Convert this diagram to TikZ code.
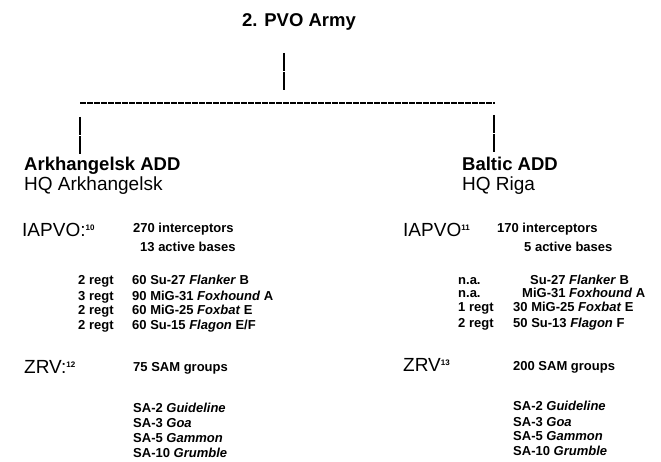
\documentclass[tikz,border=0pt]{standalone}
\usepackage{fontspec}
\setmainfont{Liberation Sans}
\newcommand{\supnum}[1]{\raisebox{6pt}{\fontsize{8}{8}\selectfont\bfseries #1}}
\tikzset{
  ttl/.style={font=\fontsize{18.5}{20}\selectfont\bfseries, inner sep=0pt, anchor=base west},
  hq/.style={font=\fontsize{19}{21}\selectfont, inner sep=0pt, anchor=base west},
  lab/.style={font=\fontsize{19}{21}\selectfont, inner sep=0pt, anchor=base west},
  sm/.style={font=\fontsize{13}{15}\selectfont\bfseries, inner sep=0pt, anchor=base west},
  vline/.style={line width=1.6pt, dash pattern=on 18pt off 1.5pt},
  hline/.style={line width=1.3pt, dash pattern=on 6pt off 1pt}
}
\begin{document}
\begin{tikzpicture}[x=1pt,y=-1pt]
\useasboundingbox (0,0) rectangle (661,462);
% title
\node[ttl, anchor=base] (title) at (299,27) {2. PVO Army};
\coordinate (t1) at (284,53);
\coordinate (jt) at (284,92);
\coordinate (jl) at (80,103);
\coordinate (jr) at (495,103);
\coordinate (l1) at (80,117);
\coordinate (r1) at (494,115);
% branch heads
\node[ttl] (ark) at (24,171) {Arkhangelsk ADD};
\node[hq] (arkhq) at (24,191) {HQ Arkhangelsk};
\node[ttl] (bal) at (462,171) {Baltic ADD};
\node[hq] (balhq) at (462,191) {HQ Riga};
\coordinate (l2) at (80,155);
\coordinate (r2) at (494,152);
% connectors
\draw[vline] (t1) -- (jt);
\draw[hline] (jl) -- (jr);
\draw[vline] (l1) -- (l2);
\draw[vline] (r1) -- (r2);
% left column
\node[lab] (liap) at (22,237) {IAPVO:\supnum{10}};
\node[sm] (lint) at (133,233) {270 interceptors};
\node[sm] (lbas) at (140,252) {13 active bases};
\node[sm] (lr1) at (78,285) {2 regt};
\node[sm] (lr2) at (78,300) {3 regt};
\node[sm] (lr3) at (78,314) {2 regt};
\node[sm] (lr4) at (78,329) {2 regt};
\node[sm] (la1) at (132,285) {60 Su-27 \textit{Flanker} B};
\node[sm] (la2) at (132,300) {90 MiG-31 \textit{Foxhound} A};
\node[sm] (la3) at (132,314) {60 MiG-25 \textit{Foxbat} E};
\node[sm] (la4) at (132,329) {60 Su-15 \textit{Flagon} E/F};
\node[lab] (lzrv) at (24,373) {ZRV:\supnum{12}};
\node[sm] (lsam) at (133,371) {75 SAM groups};
\node[sm] (ls1) at (133,412) {SA-2 \textit{Guideline}};
\node[sm] (ls2) at (133,427) {SA-3 \textit{Goa}};
\node[sm] (ls3) at (133,442) {SA-5 \textit{Gammon}};
\node[sm] (ls4) at (133,457) {SA-10 \textit{Grumble}};
% right column
\node[lab] (riap) at (403,237) {IAPVO\supnum{11}};
\node[sm] (rint) at (497,233) {170 interceptors};
\node[sm] (rbas) at (524,252) {5 active bases};
\node[sm] (rr1) at (458,284) {n.a.};
\node[sm] (rr2) at (458,298) {n.a.};
\node[sm] (rr3) at (458,312) {1 regt};
\node[sm] (rr4) at (458,327) {2 regt};
\node[sm] (ra1) at (530,284) {Su-27 \textit{Flanker} B};
\node[sm] (ra2) at (522,298) {MiG-31 \textit{Foxhound} A};
\node[sm] (ra3) at (513,312) {30 MiG-25 \textit{Foxbat} E};
\node[sm] (ra4) at (513,327) {50 Su-13 \textit{Flagon} F};
\node[lab] (rzrv) at (403,371) {ZRV\supnum{13}};
\node[sm] (rsam) at (513,370) {200 SAM groups};
\node[sm] (rs1) at (513,410) {SA-2 \textit{Guideline}};
\node[sm] (rs2) at (513,426) {SA-3 \textit{Goa}};
\node[sm] (rs3) at (513,440) {SA-5 \textit{Gammon}};
\node[sm] (rs4) at (513,455) {SA-10 \textit{Grumble}};
\end{tikzpicture}
\end{document}
